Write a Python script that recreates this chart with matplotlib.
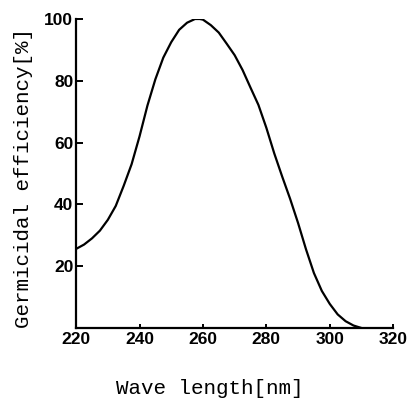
import matplotlib
matplotlib.use("Agg")
import matplotlib.pyplot as plt

wavelength = [220, 222.5, 225, 227.5, 230, 232.5, 235, 237.5, 240, 242.5, 245, 247.5,
              250, 252.5, 255, 257.5, 259, 260, 262.5, 265, 267.5, 270, 272.5, 275,
              277.5, 280, 282.5, 285, 287.5, 290, 292.5, 295, 297.5, 300, 302.5,
              305, 307.5, 310]
efficiency = [25.6, 27.0, 29.0, 31.5, 35.0, 39.5, 46.0, 53.0, 62.0, 72.0, 80.5, 87.5,
              92.5, 96.5, 98.8, 100.0, 100.0, 99.8, 98.0, 95.6, 92.0, 88.3, 83.5, 77.8,
              72.2, 64.8, 56.5, 49.0, 41.8, 34.0, 25.5, 17.8, 12.0, 7.8, 4.4,
              2.2, 0.8, 0.0]
x_ticks = [220, 240, 260, 280, 300, 320]
y_ticks = [20, 40, 60, 80, 100]

tick_font = "Liberation Sans"

fig = plt.figure(figsize=(4.07, 4.0), dpi=100)
ax = fig.add_axes([0.187, 0.18, 0.779, 0.7725])
ax.plot(wavelength, efficiency, color="black", lw=1.6, solid_joinstyle="round")
ax.set_xlim(220, 320)
ax.set_ylim(0, 100)
ax.spines["top"].set_visible(False)
ax.spines["right"].set_visible(False)
for s in ("left", "bottom"):
    ax.spines[s].set_linewidth(1.6)
ax.set_xticks(x_ticks)
ax.set_yticks(y_ticks)
ax.set_xticklabels([str(v) for v in x_ticks], fontfamily=tick_font, fontweight="bold", fontsize=12.5)
ax.set_yticklabels([str(v) for v in y_ticks], fontfamily=tick_font, fontweight="bold", fontsize=12.5)
ax.tick_params(axis="y", direction="in", length=5, width=1.4, pad=2)
ax.tick_params(axis="x", direction="in", length=3, width=1.4, pad=3)
ax.set_xlabel("Wave length[nm]", fontfamily="Liberation Mono", fontsize=15)
ax.set_ylabel("Germicidal efficiency[%]", fontfamily="Liberation Mono", fontsize=15)
ax.xaxis.set_label_coords(0.42, -0.165)
ax.yaxis.set_label_coords(-0.136, 0.485)
fig.savefig("out.png", dpi=100)
